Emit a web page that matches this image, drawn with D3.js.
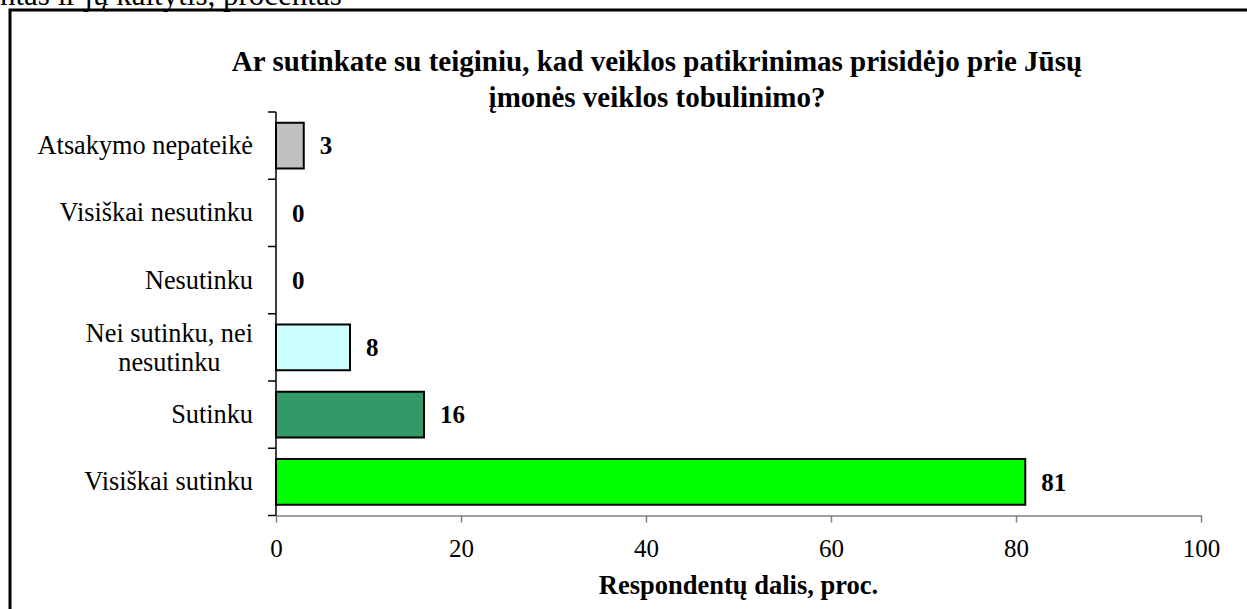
<!DOCTYPE html>
<html lang="lt">
<head>
<meta charset="UTF-8">
<title>Veiklos patikrinimas</title>
<script src="https://d3js.org/d3.v7.min.js"></script>
<style>
  body { margin: 0; background: #fff; }
  svg { display: block; }
  svg text { font-family: "Liberation Serif", "Times New Roman", serif; }
</style>
</head>
<body>
<div id="chart"></div>
<script>
// data
const categories = [
  "Atsakymo nepateikė",
  "Visiškai nesutinku",
  "Nesutinku",
  "Nei sutinku, nei|nesutinku",
  "Sutinku",
  "Visiškai sutinku"
];
const values = [3, 0, 0, 8, 16, 81];
const barColors = ["#c0c0c0", "#ffffff", "#ffffff", "#ccffff", "#339966", "#00ff00"];
const xTicks = [0, 20, 40, 60, 80, 100];
const titleLines = [
  "Ar sutinkate su teiginiu, kad veiklos patikrinimas prisidėjo prie Jūsų",
  "įmonės veiklos tobulinimo?"
];
const xTitle = "Respondentų dalis, proc.";
const cutText = "ntas ir jų kaitytis, procentas";

const W = 1247, H = 609;
const svg = d3.select("#chart").append("svg")
  .attr("width", W)
  .attr("height", H);

// text from the page above, cut off at the top edge
svg.append("text")
  .attr("x", 0)
  .attr("y", 5)
  .attr("font-size", 31)
  .text(cutText);

// frame (only top and left visible)
svg.append("path")
  .attr("d", `M10,${H} V10 H${W}`)
  .attr("fill", "none")
  .attr("stroke", "black")
  .attr("stroke-width", 3);

// title
svg.append("g").selectAll("text")
  .data(titleLines)
  .enter().append("text")
  .attr("x", 657)
  .attr("y", (d, i) => 71 + i * 36)
  .attr("text-anchor", "middle")
  .attr("font-size", 29)
  .attr("font-weight", "bold")
  .text(d => d);

const x = d3.scaleLinear().domain([0, 100]).range([276, 1201]);
const y = d3.scaleBand().domain(categories).range([112, 515.5])
  .paddingInner(0.32).paddingOuter(0.16);

// x axis
const xAxis = svg.append("g")
  .attr("transform", `translate(0,${y.range()[1]})`)
  .call(d3.axisBottom(x).tickValues(xTicks).tickSize(7).tickSizeOuter(0));
xAxis.attr("font-family", null);
xAxis.select(".domain").attr("stroke", "#808080").attr("stroke-width", 1.5);
xAxis.selectAll(".tick line").attr("stroke", "#808080").attr("stroke-width", 1.5);
xAxis.selectAll(".tick text")
  .attr("y", 41)
  .attr("dy", null)
  .attr("font-size", 25)
  .attr("fill", "black");

// x axis title
svg.append("text")
  .attr("x", (x.range()[0] + x.range()[1]) / 2)
  .attr("y", 594)
  .attr("text-anchor", "middle")
  .attr("font-size", 26.5)
  .attr("font-weight", "bold")
  .text(xTitle);

// y axis line and ticks at band boundaries
const y0 = y.range()[0];
const step = y.step();
svg.append("line")
  .attr("x1", x(0)).attr("x2", x(0))
  .attr("y1", y0).attr("y2", y.range()[1])
  .attr("stroke", "black").attr("stroke-width", 1.5);
svg.append("g").selectAll("line")
  .data(d3.range(categories.length + 1))
  .enter().append("line")
  .attr("x1", x(0) - 8).attr("x2", x(0))
  .attr("y1", i => y0 + i * step)
  .attr("y2", i => y0 + i * step)
  .attr("stroke", "black").attr("stroke-width", 1.5);

// category labels
const labelRight = x(0) - 23;
categories.forEach(c => {
  const lines = c.split("|");
  const cy = y(c) + y.bandwidth() / 2;
  const t = svg.append("text")
    .attr("font-size", 26.3);
  if (lines.length === 1) {
    t.attr("x", labelRight).attr("y", cy).attr("dy", "0.32em")
      .attr("text-anchor", "end").text(lines[0]);
  } else {
    lines.forEach((l, i) => {
      t.append("tspan")
        .attr("y", cy - 5 + i * 29)
        .text(l);
    });
    // centre the lines on the widest one
    let maxW = 0;
    t.selectAll("tspan").each(function() {
      maxW = Math.max(maxW, this.getComputedTextLength());
    });
    t.attr("text-anchor", "middle");
    t.selectAll("tspan").attr("x", labelRight - maxW / 2);
  }
});

// bars
svg.append("g").selectAll("rect")
  .data(values)
  .enter().append("rect")
  .attr("x", x(0))
  .attr("y", (d, i) => y(categories[i]))
  .attr("width", d => x(d) - x(0))
  .attr("height", y.bandwidth())
  .attr("fill", (d, i) => barColors[i])
  .attr("stroke", "black")
  .attr("stroke-width", 2);

// value labels
svg.append("g").selectAll("text")
  .data(values)
  .enter().append("text")
  .attr("x", d => x(d) + 16)
  .attr("y", (d, i) => y(categories[i]) + y.bandwidth() / 2)
  .attr("dy", "0.35em")
  .attr("font-size", 25)
  .attr("font-weight", "bold")
  .text(d => d);
</script>
</body>
</html>
